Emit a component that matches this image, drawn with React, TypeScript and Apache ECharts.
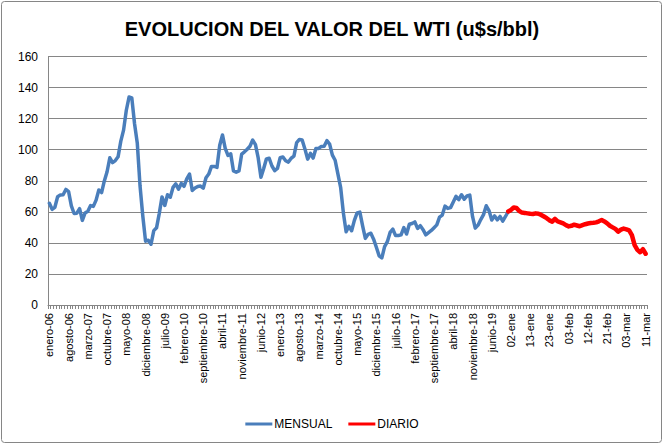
import { useEffect, useRef } from "react";
import * as echarts from "echarts";

const meses = ["enero", "febrero", "marzo", "abril", "mayo", "junio", "julio", "agosto", "septiembre", "octubre", "noviembre", "diciembre"];
const anios = ["06", "07", "08", "09", "10", "11", "12", "13", "14", "15", "16", "17", "18", "19"];

const wti2006 = [65.5, 61.6, 62.9, 69.7, 70.9, 71.0, 74.4, 73.0, 63.8, 58.9, 59.1, 62.0];
const wti2007 = [54.5, 59.3, 60.4, 64.0, 63.5, 67.5, 74.1, 72.4, 79.9, 85.8, 94.8, 91.7];
const wti2008 = [93.0, 95.4, 105.5, 112.6, 125.4, 133.9, 133.4, 116.7, 104.1, 76.6, 57.3, 41.1];
const wti2009 = [41.7, 39.1, 47.9, 49.7, 59.0, 69.6, 64.1, 71.0, 69.4, 75.7, 78.0, 74.5];
const wti2010 = [78.3, 76.4, 81.2, 84.3, 73.7, 75.3, 76.3, 76.6, 75.2, 81.9, 84.3, 89.2];
const wti2011 = [89.2, 88.6, 102.9, 109.5, 100.9, 96.3, 97.3, 86.3, 85.5, 86.3, 97.2, 98.6];
const wti2012 = [100.3, 102.2, 106.2, 103.3, 94.7, 82.3, 87.9, 94.1, 94.5, 89.5, 86.5, 87.9];
const wti2013 = [94.8, 95.3, 92.9, 92.0, 94.5, 95.8, 104.6, 106.6, 106.3, 100.5, 93.9, 97.6];
const wti2014 = [94.6, 100.8, 100.8, 102.1, 102.2, 105.8, 103.6, 96.5, 93.2, 84.4, 75.8, 59.3];
const wti2015 = [47.2, 50.6, 47.8, 54.5, 59.3, 59.8, 50.9, 42.9, 45.5, 46.2, 42.4, 37.2];
const wti2016 = [31.7, 30.3, 37.6, 40.8, 46.7, 48.8, 44.7, 44.7, 45.2, 49.8, 45.7, 52.0];
const wti2017 = [52.5, 53.5, 49.3, 51.1, 48.5, 45.2, 46.6, 48.0, 49.8, 51.6, 56.6, 57.9];
const wti2018 = [63.7, 62.2, 62.7, 66.3, 70.0, 67.9, 71.0, 68.1, 70.2, 70.8, 57.0, 49.5];
const wti2019 = [51.4, 55.0, 58.2, 63.9, 60.8, 54.7, 57.4, 54.8, 57.0, 54.0, 57.0, 60.2];

const diasLabels = [
  "02-ene", "03-ene", "06-ene", "07-ene", "08-ene", "09-ene", "10-ene", "13-ene", "14-ene", "15-ene",
  "16-ene", "17-ene", "21-ene", "22-ene", "23-ene", "24-ene", "27-ene", "28-ene", "29-ene", "30-ene",
  "31-ene", "03-feb", "04-feb", "05-feb", "06-feb", "07-feb", "10-feb", "11-feb", "12-feb", "13-feb",
  "14-feb", "17-feb", "18-feb", "19-feb", "20-feb", "21-feb", "24-feb", "25-feb", "26-feb", "27-feb",
  "28-feb", "02-mar", "03-mar", "04-mar", "05-mar", "06-mar", "07-mar", "09-mar", "10-mar", "11-mar",
];
const diario = [
  61.2, 62.8, 62.5, 60.5, 59.5, 59.3, 59.0, 58.7, 58.6, 59.0,
  58.8, 58.0, 57.0, 55.9, 54.5, 53.7, 55.4, 53.8, 53.2, 52.5,
  51.4, 50.6, 51.0, 51.7, 51.2, 50.7, 51.4, 52.0, 52.5, 52.8,
  52.9, 53.2, 53.9, 54.7, 53.8, 52.6, 51.0, 50.0, 49.0, 47.2,
  48.5, 49.2, 48.7, 48.0, 45.0, 38.5, 35.5, 34.0, 35.9, 33.0,
];

const FONT = "Liberation Sans";

export default function App() {
  const ref = useRef<HTMLDivElement>(null);
  useEffect(() => {
    if (!ref.current) return;
    const chart = echarts.init(ref.current, undefined, { renderer: "svg" });
    const mensual = [
      ...wti2006, ...wti2007, ...wti2008, ...wti2009, ...wti2010, ...wti2011, ...wti2012,
      ...wti2013, ...wti2014, ...wti2015, ...wti2016, ...wti2017, ...wti2018, ...wti2019,
    ];
    const mesLabels: string[] = [];
    anios.forEach((a) => meses.forEach((m) => mesLabels.push(m + "-" + a)));
    const categorias = [...mesLabels, ...diasLabels];
    const nM = mensual.length;
    const serieMensual = [...mensual, ...diasLabels.map(() => null)];
    const serieDiario: (number | null)[] = [
      ...mensual.map((v, i) => (i === nM - 1 ? v : null)),
      ...diario,
    ];
    chart.setOption({
      animation: false,
      backgroundColor: "#ffffff",
      title: {
        text: "EVOLUCION DEL VALOR DEL WTI (u$s/bbl)",
        left: "center",
        top: 14,
        textStyle: { fontFamily: FONT, fontSize: 20, fontWeight: "bold", color: "#000000" },
      },
      graphic: [
        {
          type: "rect",
          shape: { x: 1.5, y: 1.5, width: 660, height: 441, r: 3 },
          style: { fill: "none", stroke: "#868686", lineWidth: 1 },
          silent: true,
        },
      ],
      legend: {
        bottom: 10,
        left: "center",
        icon: "rect",
        itemWidth: 27,
        itemHeight: 3,
        itemGap: 16,
        textStyle: { fontFamily: FONT, fontSize: 12, color: "#000000", padding: [0, 0, 0, -3] },
        data: ["MENSUAL", "DIARIO"],
      },
      grid: { left: 48, right: 17, top: 56.5, bottom: 140, containLabel: false },
      xAxis: {
        type: "category",
        data: categorias,
        boundaryGap: true,
        axisLine: { lineStyle: { color: "#868686", width: 1 } },
        axisTick: { show: true, interval: 0, length: 4, lineStyle: { color: "#868686" } },
        axisLabel: {
          interval: 6,
          rotate: 90,
          fontFamily: FONT,
          fontSize: 11,
          color: "#000000",
          margin: 8,
        },
        splitLine: { show: false },
      },
      yAxis: {
        type: "value",
        min: 0,
        max: 160,
        interval: 20,
        axisLine: { show: true, lineStyle: { color: "#868686", width: 1 } },
        axisTick: { show: false },
        axisLabel: { fontFamily: FONT, fontSize: 12, color: "#000000", margin: 10 },
        splitLine: { lineStyle: { color: "#868686", width: 1 } },
      },
      series: [
        {
          name: "MENSUAL",
          type: "line",
          data: serieMensual,
          showSymbol: false,
          symbol: "none",
          lineStyle: { color: "#4A7EBB", width: 3.5, join: "round", cap: "round" },
          itemStyle: { color: "#4A7EBB" },
          connectNulls: false,
        },
        {
          name: "DIARIO",
          type: "line",
          data: serieDiario,
          showSymbol: false,
          symbol: "none",
          lineStyle: { color: "#FF0000", width: 4.5, join: "round", cap: "round" },
          itemStyle: { color: "#FF0000" },
          connectNulls: false,
        },
      ],
    });
    return () => chart.dispose();
  }, []);
  return (
    <div
      ref={ref}
      style={{ position: "fixed", left: 0, top: 0, width: 664, height: 445 }}
    />
  );
}
